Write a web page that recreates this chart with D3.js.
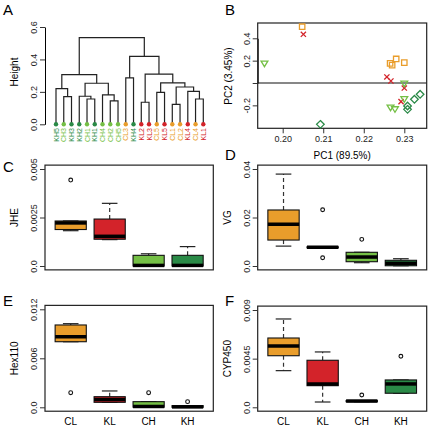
<!DOCTYPE html>
<html><head><meta charset="utf-8">
<script src="https://cdn.jsdelivr.net/npm/d3@7"></script>
<style>body{margin:0;background:#fff}svg{display:block;font-family:"Liberation Sans",Arial,sans-serif}</style>
</head><body><svg id="c" width="430" height="429"></svg>
<script>
// ---------- data ----------
const groups = ["CL", "KL", "CH", "KH"];
const groupColors = ["#E99D2B", "#D3232A", "#74BF45", "#2A8A47"];

// A: dendrogram (leaf order left to right; merges like R hclust: -i leaf, +j merge)
const leafLabels = ["KH5","CH3","KH3","KH2","CH1","KH1","CH4","CH2","CH5","CL3","KH4","KL2","KL3","CL5","KL5","CL1","CL2","KL4","CL4","KL1"];
const mergeLeft  = [-2,-5,-8,-1,-4,-7,5,4,-10,-12,-14,-16,-19,-18,12,11,10,9,8];
const mergeRight = [-3,-6,-9, 1, 2, 3,6,7,-11,-13,-15,-17,-20,13,14,15,16,17,18];
const mergeHeight = [0.171,0.156,0.144,0.220,0.173,0.181,0.253,0.306,0.286,0.136,0.197,0.123,0.156,0.203,0.230,0.255,0.310,0.419,0.534];
const heightTicks = [0, 0.2, 0.4, 0.6];

// B: PCA
const pc1CL = [0.2048, 0.2265, 0.2270, 0.2280, 0.2300];
const pc2CL = [0.504, 0.176, 0.160, 0.215, 0.182];
const pc1KL = [0.2051, 0.2257, 0.2267, 0.2300, 0.2292];
const pc2KL = [0.436, 0.054, 0.018, -0.045, -0.167];
const pc1CH = [0.1955, 0.2300, 0.2300, 0.2266, 0.2277];
const pc2CH = [0.176, -0.003, -0.143, -0.218, -0.233];
const pc1KH = [0.2093, 0.2339, 0.2325, 0.2308, 0.2308];
const pc2KH = [-0.370, -0.101, -0.146, -0.206, -0.236];
const pc1Ticks = [0.20, 0.21, 0.22, 0.23];
const pc2Ticks = [-0.2, 0.2, 0.4];

// C-F: boxplot stats [min, q1, median, q3, max] per group (CL, KL, CH, KH)
const jheStats = [[0.00182,0.00188,0.00222,0.00232,0.00232],[0.00136,0.00138,0.00153,0.00242,0.00323],[0,0,0.00003,0.00055,0.00063],[0,0,0.00003,0.00055,0.0010]];
const jheOut = [[0.00443],[],[],[]];
const jheTicks = [0, 0.0025, 0.005], jheLabels = ["0.0","0.0025","0.005"];

const vgStats = [[0.0082,0.0107,0.0172,0.0231,0.0379],[0.0075,0.0075,0.0077,0.0079,0.0079],[0.00136,0.00177,0.0037,0.00565,0.00565],[0.0001,0.0001,0.0011,0.00235,0.0030]];
const vgOut = [[],[0.0232,0.0034],[0.0110],[]];
const vgTicks = [0, 0.02, 0.04], vgLabels = ["0.0","0.02","0.04"];

const hexStats = [[0.00803,0.00803,0.00864,0.01008,0.01024],[0.00061,0.00061,0.00095,0.0013,0.0020],[0.00002,0.00002,0.0001,0.00069,0.00069],[0,0,0.00005,0.0002,0.0002]];
const hexOut = [[0.00179],[],[0.00179],[0.00069]];
const hexTicks = [0, 0.006, 0.012], hexLabels = ["0.0","0.006","0.012"];

const cypStats = [[0.00339,0.00477,0.00567,0.00641,0.00817],[0.00049,0.0020,0.00216,0.00435,0.00512],[0.00052,0.00052,0.00058,0.00062,0.00062],[0.0013,0.0013,0.00216,0.00253,0.00253]];
const cypOut = [[],[],[0.00114],[0.00472]];
const cypTicks = [0, 0.0045, 0.009], cypLabels = ["0.0","0.0045","0.009"];

// ---------- drawing ----------
const svg = d3.select("#c");
const colorOf = d => groupColors[groups.indexOf(d.replace(/[0-9]/g, ""))];

function panelLetter(t, x, y) {
  svg.append("text").attr("x", x).attr("y", y).attr("font-size", 15).text(t);
}
function yAxisRot(g, scale, ticks, labels, offset) {
  const ax = g.append("g").call(d3.axisLeft(scale).tickValues(ticks).tickSize(5).tickSizeOuter(0)
      .tickFormat((d, i) => labels[i]));
  ax.selectAll("text").attr("x", null).attr("dy", null).attr("y", null)
    .attr("transform", `translate(${-offset},0) rotate(-90)`)
    .attr("text-anchor", "middle").attr("font-size", 9).attr("fill", "#222")
    .style("font-family", "Liberation Sans, Arial, sans-serif");
  ax.selectAll("line").attr("stroke", "#333");
  return ax;
}
function yTitle(t, x, y) {
  svg.append("text").attr("transform", `translate(${x},${y}) rotate(-90)`)
    .attr("text-anchor", "middle").attr("font-size", 10).text(t);
}

// ----- A: dendrogram -----
(function () {
  const x = d3.scaleLinear().domain([1, leafLabels.length]).range([56, 203.3]);
  const y = d3.scaleLinear().domain([0, 0.6]).range([124.3, 27]);
  const g = svg.append("g");
  const node = [];
  const pos = ref => ref < 0 ? { x: x(-ref), h: 0 } : node[ref - 1];
  mergeLeft.forEach((l, i) => {
    const a = pos(l), b = pos(mergeRight[i]), h = mergeHeight[i];
    g.append("path").attr("fill", "none").attr("stroke", "#222").attr("stroke-width", 1.2)
      .attr("d", `M${a.x},${y(a.h)}V${y(h)}H${b.x}V${y(b.h)}`);
    node.push({ x: (a.x + b.x) / 2, h });
  });
  g.selectAll("circle").data(leafLabels).join("circle")
    .attr("cx", (d, i) => x(i + 1)).attr("cy", y(0)).attr("r", 2.2).attr("fill", d => colorOf(d));
  g.selectAll("text.leaf").data(leafLabels).join("text").attr("class", "leaf")
    .attr("transform", (d, i) => `translate(${x(i + 1) + 2.5},128) rotate(-90)`)
    .attr("text-anchor", "end").attr("font-size", 7).attr("fill", d => colorOf(d)).text(d => d);
  const ax = svg.append("g").attr("transform", "translate(45,0)");
  yAxisRot(ax, y, heightTicks, heightTicks.map(d => d.toFixed(1)), 8);
  yTitle("Height", 18, 72);
  panelLetter("A", 3, 15);
})();

// ----- B: PCA -----
(function () {
  const x = d3.scaleLinear().domain([0.20, 0.23]).range([282.7, 404.3]);
  const y = d3.scaleLinear().domain([0, 0.4]).range([83, 38.3]);
  const L = 257.7, R = 426.7, T = 23, B = 128.3;
  const g = svg.append("g");
  g.append("line").attr("x1", L).attr("x2", R).attr("y1", y(0)).attr("y2", y(0)).attr("stroke", "#111").attr("stroke-width", 1.2);
  const ax = g.append("g").attr("transform", `translate(${L},0)`);
  yAxisRot(ax, y, [-0.2, 0, 0.2, 0.4], ["-0.2", "", "0.2", "0.4"], 8);
  const bx = g.append("g").attr("transform", `translate(0,${B})`)
    .call(d3.axisBottom(x).tickValues(pc1Ticks).tickSize(5).tickSizeOuter(0).tickFormat(d3.format(".2f")));
  bx.select(".domain").remove();
  bx.selectAll("text").attr("font-size", 9).attr("fill", "#222").attr("y", 7)
    .style("font-family", "Liberation Sans, Arial, sans-serif");
  bx.selectAll("line").attr("stroke", "#333");
  g.append("rect").attr("x", L).attr("y", T).attr("width", R - L).attr("height", B - T)
    .attr("fill", "none").attr("stroke", "#222").attr("stroke-width", 1.2);
  const sym = {
    CL: "M-2.7,-2.7H2.7V2.7H-2.7Z",
    KL: "M-2.6,-2.6L2.6,2.6M-2.6,2.6L2.6,-2.6",
    CH: "M-3.4,-2.3H3.4L0,3.3Z",
    KH: "M0,-3.8L3.8,0L0,3.8L-3.8,0Z"
  };
  const sets = [[pc1CL, pc2CL], [pc1KL, pc2KL], [pc1CH, pc2CH], [pc1KH, pc2KH]];
  sets.forEach((s, gi) => {
    s[0].forEach((v, i) => {
      g.append("path").attr("d", sym[groups[gi]])
        .attr("transform", `translate(${x(v)},${y(s[1][i])})`)
        .attr("fill", "none").attr("stroke", groupColors[gi]).attr("stroke-width", 1.3);
    });
  });
  svg.append("text").attr("x", (L + R) / 2).attr("y", 159).attr("text-anchor", "middle").attr("font-size", 10).text("PC1 (89.5%)");
  yTitle("PC2 (3.45%)", 232, 76);
  panelLetter("B", 225, 15);
})();

// ----- C-F: boxplots -----
function boxPanel(o) {
  const x = d3.scaleLinear().domain([0.34, 4.66]).range([o.L, o.R]);
  const y = d3.scaleLinear().domain([0, o.ymax]).range([o.y0, o.y1]);
  const T = y(o.ymax * 1.04), B = y(-o.ymax * 0.04);
  const g = svg.append("g");
  const bw = (x(1.4) - x(0.6));
  o.stats.forEach((s, i) => {
    const cx = x(i + 1), col = groupColors[i];
    const [mn, q1, md, q3, mx] = s;
    if (mx > q3) {
      g.append("line").attr("x1", cx).attr("x2", cx).attr("y1", y(q3)).attr("y2", y(mx))
        .attr("stroke", "#333").attr("stroke-width", 1.2).attr("stroke-dasharray", "4,3");
    }
    if (mn < q1) {
      g.append("line").attr("x1", cx).attr("x2", cx).attr("y1", y(q1)).attr("y2", y(mn))
        .attr("stroke", "#333").attr("stroke-width", 1.2).attr("stroke-dasharray", "4,3");
    }
    [mn, mx].forEach(v => g.append("line").attr("x1", cx - bw / 4).attr("x2", cx + bw / 4)
      .attr("y1", y(v)).attr("y2", y(v)).attr("stroke", "#222").attr("stroke-width", 1.2));
    g.append("rect").attr("x", cx - bw / 2).attr("width", bw)
      .attr("y", y(q3)).attr("height", Math.max(0.5, y(q1) - y(q3)))
      .attr("fill", col).attr("stroke", "#111").attr("stroke-width", 1.1);
    g.append("line").attr("x1", cx - bw / 2).attr("x2", cx + bw / 2).attr("y1", y(md)).attr("y2", y(md))
      .attr("stroke", "#000").attr("stroke-width", 3.5);
    o.outs[i].forEach(v => g.append("circle").attr("cx", cx).attr("cy", y(v)).attr("r", 1.9)
      .attr("fill", "none").attr("stroke", "#111").attr("stroke-width", 1.1));
  });
  g.append("rect").attr("x", o.L).attr("y", T).attr("width", o.R - o.L).attr("height", B - T)
    .attr("fill", "none").attr("stroke", "#222").attr("stroke-width", 1.2);
  const ax = svg.append("g").attr("transform", `translate(${o.L},0)`);
  yAxisRot(ax, y, o.ticks, o.labels, 8).select(".domain").remove();
  yTitle(o.title, o.L - 27, (T + B) / 2);
  if (o.showX) {
    groups.forEach((gname, i) => svg.append("text").attr("x", x(i + 1)).attr("y", B + 14)
      .attr("text-anchor", "middle").attr("font-size", 10).text(gname));
  }
  panelLetter(o.letter, o.lx, o.ly);
}

boxPanel({ L: 45, R: 213.3, y0: 266, y1: 169, ymax: 0.005, stats: jheStats, outs: jheOut, ticks: jheTicks, labels: jheLabels, title: "JHE", letter: "C", lx: 3, ly: 172, showX: false });
boxPanel({ L: 257.7, R: 426.7, y0: 266, y1: 169, ymax: 0.04, stats: vgStats, outs: vgOut, ticks: vgTicks, labels: vgLabels, title: "VG", letter: "D", lx: 225, ly: 160, showX: false });
boxPanel({ L: 45, R: 213.3, y0: 407.3, y1: 309.3, ymax: 0.012, stats: hexStats, outs: hexOut, ticks: hexTicks, labels: hexLabels, title: "Hex110", letter: "E", lx: 3, ly: 306, showX: true });
boxPanel({ L: 257.7, R: 426.7, y0: 407.3, y1: 310, ymax: 0.009, stats: cypStats, outs: cypOut, ticks: cypTicks, labels: cypLabels, title: "CYP450", letter: "F", lx: 225, ly: 306, showX: true });
</script></body></html>
